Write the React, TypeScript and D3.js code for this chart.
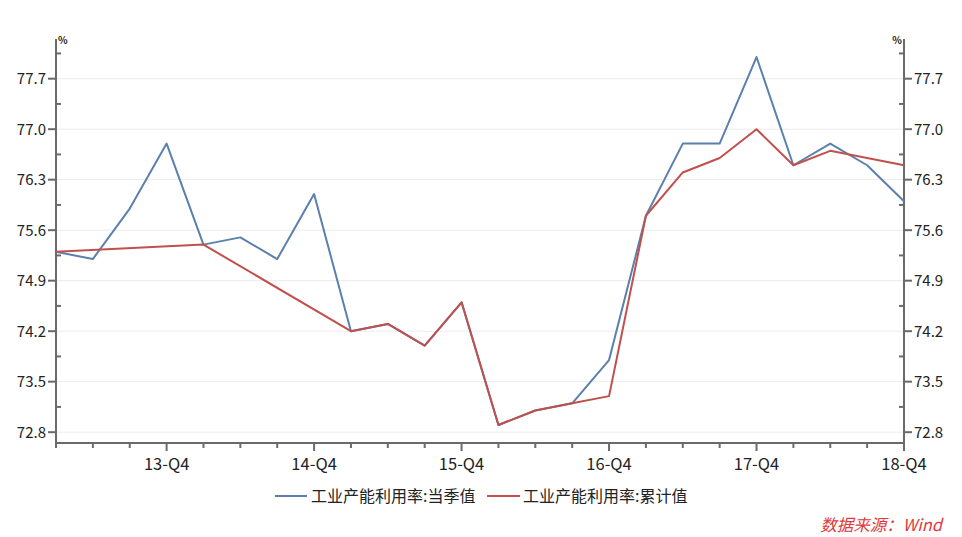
import React from 'react';
import * as d3 from 'd3';

const quarters = [
  '13-Q1', '13-Q2', '13-Q3', '13-Q4',
  '14-Q1', '14-Q2', '14-Q3', '14-Q4',
  '15-Q1', '15-Q2', '15-Q3', '15-Q4',
  '16-Q1', '16-Q2', '16-Q3', '16-Q4',
  '17-Q1', '17-Q2', '17-Q3', '17-Q4',
  '18-Q1', '18-Q2', '18-Q3', '18-Q4',
];

const quarterlyValues = [
  75.3, 75.2, 75.9, 76.8,
  75.4, 75.5, 75.2, 76.1,
  74.2, 74.3, 74.0, 74.6,
  72.9, 73.1, 73.2, 73.8,
  75.8, 76.8, 76.8, 78.0,
  76.5, 76.8, 76.5, 76.0,
];

const cumulativeValues: (number | null)[] = [
  75.3, null, null, null,
  75.4, null, null, null,
  74.2, 74.3, 74.0, 74.6,
  72.9, 73.1, 73.2, 73.3,
  75.8, 76.4, 76.6, 77.0,
  76.5, 76.7, 76.6, 76.5,
];

const yTickValues = [72.8, 73.5, 74.2, 74.9, 75.6, 76.3, 77.0, 77.7];
const xTickLabels = ['13-Q4', '14-Q4', '15-Q4', '16-Q4', '17-Q4', '18-Q4'];
const seriesNames = ['工业产能利用率:当季值', '工业产能利用率:累计值'];
const seriesColors = ['#5b80ad', '#c0504d'];
const sourceText = '数据来源：Wind';

const W = 962;
const H = 537;
const LEFT = 56;
const RIGHT = 904;
const TOP = 39;
const BOTTOM = 443;
const FONT = '"Noto Sans CJK SC", "Noto Sans", sans-serif';
const AXIS = '#6a6a6a';

export default function App() {
  const x = d3.scalePoint<string>().domain(quarters).range([LEFT, RIGHT]);
  const y = d3.scaleLinear().domain([72.65, 78.25]).range([BOTTOM, TOP]);

  const quarterlyPts = quarters.map((q, i) => [x(q) as number, y(quarterlyValues[i])] as [number, number]);
  const cumulativePts = quarters
    .map((q, i) => ({ q, v: cumulativeValues[i] }))
    .filter((d) => d.v !== null)
    .map((d) => [x(d.q) as number, y(d.v as number)] as [number, number]);

  const line = d3.line<[number, number]>().x((d) => d[0]).y((d) => d[1]);
  const minorY = yTickValues.map((v) => v + 0.35);

  return (
    <svg
      width={W}
      height={H}
      style={{ position: 'absolute', left: 0, top: 0, background: '#ffffff' }}
      fontFamily={FONT}
    >
      {/* grid */}
      {yTickValues.map((v) => (
        <line key={'g' + v} x1={LEFT} x2={RIGHT} y1={y(v)} y2={y(v)} stroke="#ebebeb" strokeWidth={1} />
      ))}

      {/* left axis */}
      <line x1={LEFT} x2={LEFT} y1={TOP} y2={BOTTOM} stroke={AXIS} strokeWidth={2} />
      {yTickValues.map((v) => (
        <g key={'l' + v}>
          <line x1={LEFT - 8} x2={LEFT} y1={y(v)} y2={y(v)} stroke={AXIS} strokeWidth={2} />
          <text x={LEFT - 10} y={y(v)} dy="0.36em" textAnchor="end" fontSize={15} fill="#222">
            {v.toFixed(1)}
          </text>
        </g>
      ))}
      {minorY.map((v) => (
        <line key={'lm' + v} x1={LEFT} x2={LEFT + 5} y1={y(v)} y2={y(v)} stroke={AXIS} strokeWidth={2} />
      ))}
      <text x={LEFT + 2} y={TOP + 5} fontSize={10} fontWeight="bold" fill="#222">%</text>

      {/* right axis */}
      <line x1={RIGHT} x2={RIGHT} y1={TOP} y2={BOTTOM} stroke={AXIS} strokeWidth={2} />
      {yTickValues.map((v) => (
        <g key={'r' + v}>
          <line x1={RIGHT} x2={RIGHT + 8} y1={y(v)} y2={y(v)} stroke={AXIS} strokeWidth={2} />
          <text x={RIGHT + 10} y={y(v)} dy="0.36em" textAnchor="start" fontSize={15} fill="#222">
            {v.toFixed(1)}
          </text>
        </g>
      ))}
      {minorY.map((v) => (
        <line key={'rm' + v} x1={RIGHT - 5} x2={RIGHT} y1={y(v)} y2={y(v)} stroke={AXIS} strokeWidth={2} />
      ))}
      <text x={RIGHT - 2} y={TOP + 5} fontSize={10} fontWeight="bold" fill="#222" textAnchor="end">%</text>

      {/* x axis */}
      <line x1={LEFT} x2={RIGHT} y1={BOTTOM} y2={BOTTOM} stroke={AXIS} strokeWidth={2} />
      {quarters.map((q) => {
        const major = xTickLabels.includes(q);
        return (
          <line
            key={'xt' + q}
            x1={x(q)}
            x2={x(q)}
            y1={BOTTOM}
            y2={BOTTOM + (major ? 8 : 5)}
            stroke={AXIS}
            strokeWidth={2}
          />
        );
      })}
      {xTickLabels.map((q) => (
        <text key={'xl' + q} x={x(q)} y={470} textAnchor="middle" fontSize={16.5} fill="#222">
          {q}
        </text>
      ))}

      {/* lines */}
      <path d={line(quarterlyPts) || ''} fill="none" stroke={seriesColors[0]} strokeWidth={2} strokeLinejoin="round" />
      <path d={line(cumulativePts) || ''} fill="none" stroke={seriesColors[1]} strokeWidth={2} strokeLinejoin="round" />

      {/* legend */}
      <line x1={275} x2={307} y1={496} y2={496} stroke={seriesColors[0]} strokeWidth={2} />
      <text x={311} y={496} dy="0.36em" fontSize={16} fill="#222">{seriesNames[0]}</text>
      <line x1={487} x2={520} y1={496} y2={496} stroke={seriesColors[1]} strokeWidth={2} />
      <text x={523} y={496} dy="0.36em" fontSize={16} fill="#222">{seriesNames[1]}</text>

      {/* source */}
      <text x={942} y={531} textAnchor="end" fontSize={16.5} fontStyle="italic" fill="#e03a3a">
        {sourceText}
      </text>
    </svg>
  );
}
